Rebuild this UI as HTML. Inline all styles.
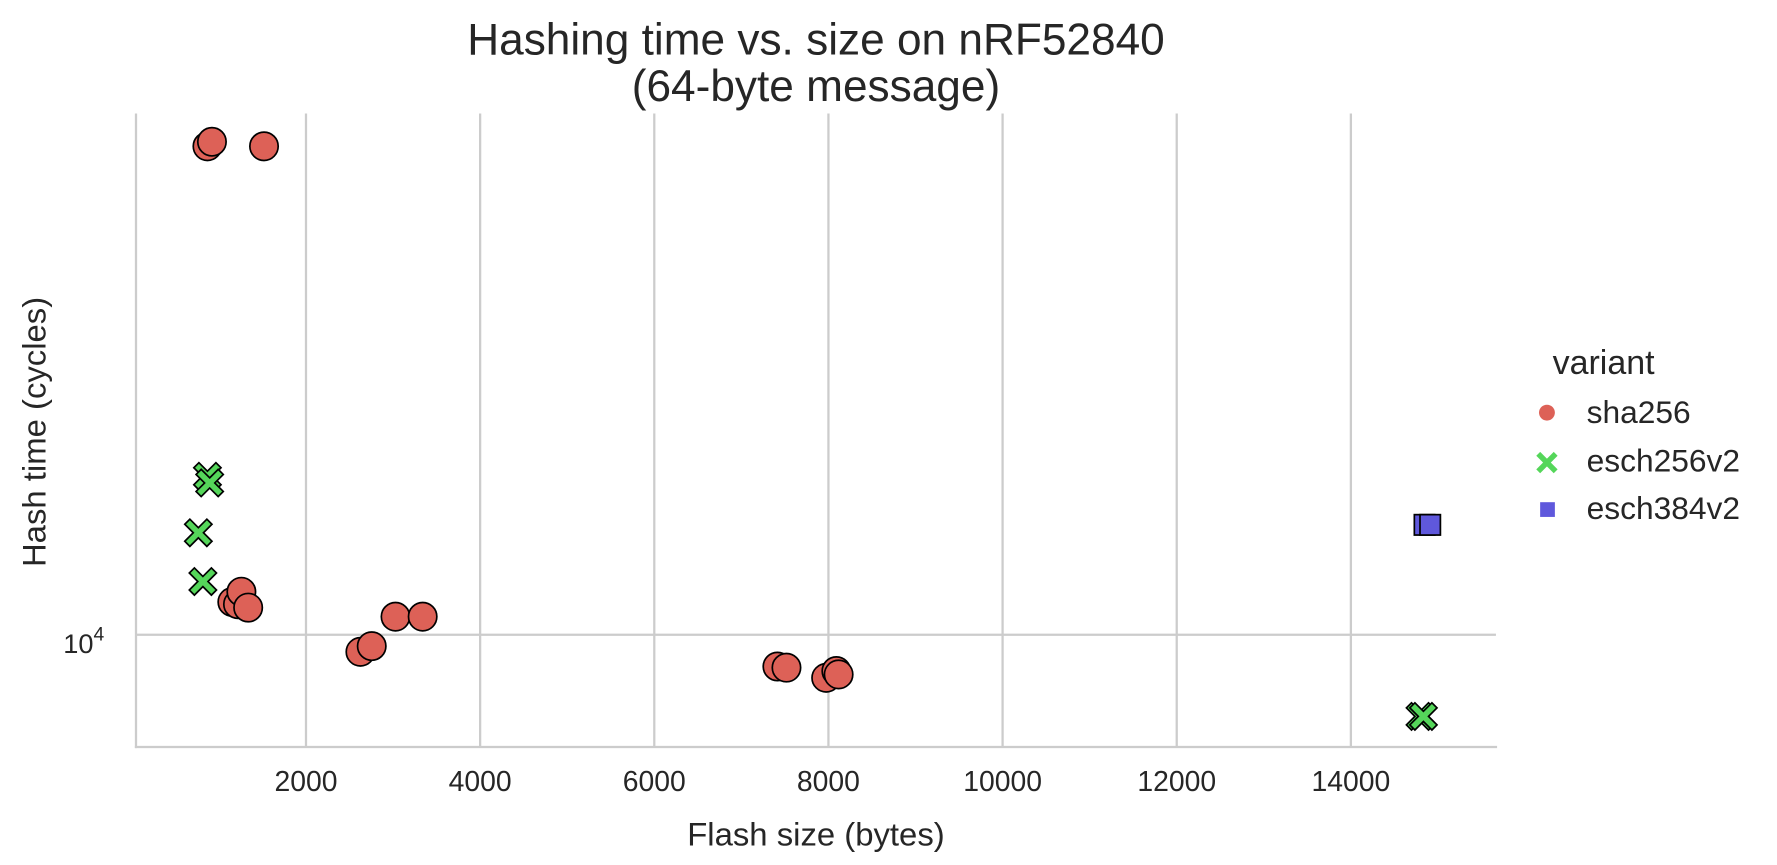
<!DOCTYPE html>
<html><head><meta charset="utf-8"><style>
html,body{margin:0;padding:0;background:#fff;}
svg{display:block;font-family:"Liberation Sans",Arial,sans-serif;}
</style></head><body>
<svg id="chart" width="1777" height="865" viewBox="0 0 1568 763" xmlns="http://www.w3.org/2000/svg">
<rect width="1568" height="763" fill="#fff"/>
<g id="grid"></g>
<line x1="120" y1="100" x2="120" y2="660" stroke="#cccccc" stroke-width="2"/>
<line x1="119" y1="659" x2="1321" y2="659" stroke="#cccccc" stroke-width="2"/>
<g id="xticks"></g>
<text x="92" y="576" font-size="24" fill="#262626" text-anchor="end">10<tspan dy="-11" font-size="17">4</tspan></text>
<g id="marks"></g>
<text x="720" y="48" font-size="39" fill="#262626" text-anchor="middle">Hashing time vs. size on nRF52840</text>
<text x="720" y="89" font-size="39" fill="#262626" text-anchor="middle">(64-byte message)</text>
<text x="720" y="746" font-size="29" fill="#262626" text-anchor="middle">Flash size (bytes)</text>
<text transform="translate(40,381) rotate(-90)" font-size="29" fill="#262626" text-anchor="middle">Hash time (cycles)</text>
<g>
<text x="1370" y="330" font-size="30" fill="#262626">variant</text>
<circle cx="1365" cy="364" r="7" fill="#dd6157"/>
<text x="1400" y="373" font-size="28" fill="#262626">sha256</text>
<path d="M1359,400 L1365,406 L1371,400 L1373,402 L1367,408 L1373,414 L1371,416 L1365,410 L1359,416 L1357,414 L1363,408 L1357,402 Z" fill="#55d65a" stroke="#55d65a" stroke-width="2"/>
<text x="1400" y="416" font-size="28" fill="#262626">esch256v2</text>
<rect x="1359" y="443" width="13" height="13" fill="#5f58dc"/>
<text x="1400" y="458" font-size="28" fill="#262626">esch384v2</text>
</g>
</svg>
<script>
const xTicks = [2000,4000,6000,8000,10000,12000,14000];
const shaX = [868,920,1518,1154,1219,1258,1336,2625,2755,3028,3340,7414,7518,7974,8091,8117];
const shaY = [26980,27230,26980,10690,10641,10914,10568,9660,9772,10375,10375,9376,9354,9163,9290,9226];
const e256X = [868,894,764,816,14794,14833];
const e256Y = [13800,13614,12303,11143,8472,8472];
const e384X = [14846,14911];
const e384Y = [12503,12503];
const NS="http://www.w3.org/2000/svg";
function xs(v){return 270+(v-2000)*0.076833;}
function ys(v){return 560-(Math.log10(v)-4)*1000;}
const grid=document.getElementById('grid'), xt=document.getElementById('xticks'), marks=document.getElementById('marks');
xTicks.forEach(t=>{
  const l=document.createElementNS(NS,'line');
  
  
  l.setAttribute('x1',xs(t));l.setAttribute('x2',xs(t));l.setAttribute('y1',100);l.setAttribute('y2',659);
  l.setAttribute('stroke','#cccccc');l.setAttribute('stroke-width','2');grid.appendChild(l);
  const tx=document.createElementNS(NS,'text');
  
  
  tx.setAttribute('x',xs(t));tx.setAttribute('y',698);tx.setAttribute('font-size','25');
  tx.setAttribute('fill','#262626');tx.setAttribute('text-anchor','middle');tx.textContent=t;xt.appendChild(tx);
});
const hl=document.createElementNS(NS,'line');


hl.setAttribute('x1',120);hl.setAttribute('x2',1320);hl.setAttribute('y1',ys(10000));hl.setAttribute('y2',ys(10000));
hl.setAttribute('stroke','#cccccc');hl.setAttribute('stroke-width','2');grid.appendChild(hl);
shaX.forEach((v,i)=>{
  const c=document.createElementNS(NS,'circle');
  
  
  c.setAttribute('cx',xs(v));c.setAttribute('cy',ys(shaY[i]));c.setAttribute('r',12.5);
  c.setAttribute('fill','#dd6157');c.setAttribute('stroke','#000');c.setAttribute('stroke-width','1.5');marks.appendChild(c);
});
e256X.forEach((v,i)=>{
  const x=xs(v),y=ys(e256Y[i]),a=4.5,b=12;
  const p=document.createElementNS(NS,'path');
  
  
  const pts=[[0,-a],[b-a,-b],[b,-(b-a)],[a,0],[b,b-a],[b-a,b],[0,a],[-(b-a),b],[-b,b-a],[-a,0],[-b,-(b-a)],[-(b-a),-b]];
  p.setAttribute('d','M'+pts.map(q=>(x+q[0])+','+(y+q[1])).join(' L')+' Z');
  p.setAttribute('fill','#55d65a');p.setAttribute('stroke','#000');p.setAttribute('stroke-width','1.5');marks.appendChild(p);
});
e384X.forEach((v,i)=>{
  const r=document.createElementNS(NS,'rect');
  
  
  r.setAttribute('x',xs(v)-9);r.setAttribute('y',ys(e384Y[i])-9);r.setAttribute('width',18);r.setAttribute('height',18);
  r.setAttribute('fill','#5f58dc');r.setAttribute('stroke','#000');r.setAttribute('stroke-width','1.5');marks.appendChild(r);
});
</script>
</body></html>
